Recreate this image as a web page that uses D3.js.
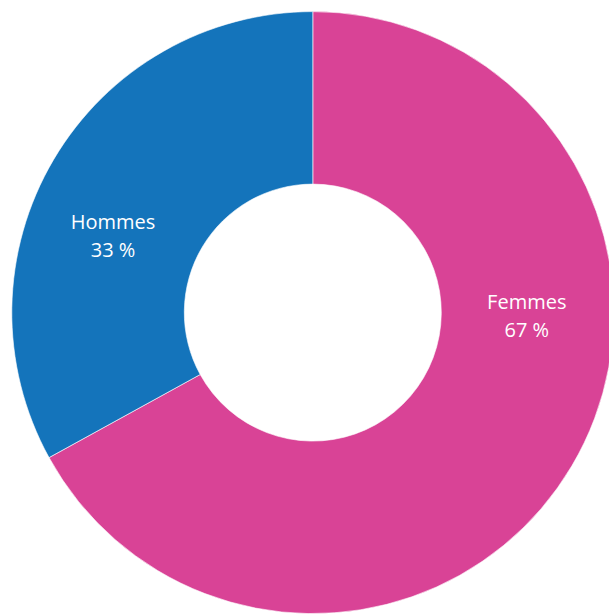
<!DOCTYPE html>
<html>
<head>
<meta charset="utf-8">
<script src="https://cdn.jsdelivr.net/npm/d3@7"></script>
<style>
  html, body { margin: 0; padding: 0; background: #fff; }
  svg { display: block; }
</style>
</head>
<body>
<svg id="chart" width="609" height="614"></svg>
<script>
// Data
const categories = ['Femmes', 'Hommes'];
const values = [67, 33];
const colors = ['#d94396', '#1474bb'];
// label placement (angle in degrees clockwise from top)
const labelAngles = [91, 291];

const svg = d3.select('#chart');
const cx = 312.8, cy = 312.6;
const outerR = 301;
const innerR = 128.5;
const labelR = 214;

const g = svg.append('g').attr('transform', `translate(${cx},${cy})`);

const pie = d3.pie().sort(null).value((d) => d.value);
const arc = d3.arc().innerRadius(innerR).outerRadius(outerR);

const data = categories.map((c, i) => ({ name: c, value: values[i], color: colors[i], angle: labelAngles[i] }));

g.selectAll('path')
  .data(pie(data))
  .enter()
  .append('path')
  .attr('d', arc)
  .attr('fill', (d) => d.data.color)
  .attr('stroke', '#fff')
  .attr('stroke-width', 0.6);

const labels = g.selectAll('text.label')
  .data(data)
  .enter()
  .append('text')
  .attr('class', 'label')
  .attr('text-anchor', 'middle')
  .attr('fill', '#fff')
  .style('font-family', '"Open Sans", "Noto Sans", sans-serif')
  .style('font-size', '20px')
  .attr('transform', (d) => {
    const a = d.angle * Math.PI / 180;
    return `translate(${labelR * Math.sin(a)},${-labelR * Math.cos(a)})`;
  });

labels.append('tspan').attr('x', 0).attr('y', -7).text((d) => d.name);
labels.append('tspan').attr('x', 0).attr('y', 21).text((d) => `${d.value} %`);
</script>
</body>
</html>
